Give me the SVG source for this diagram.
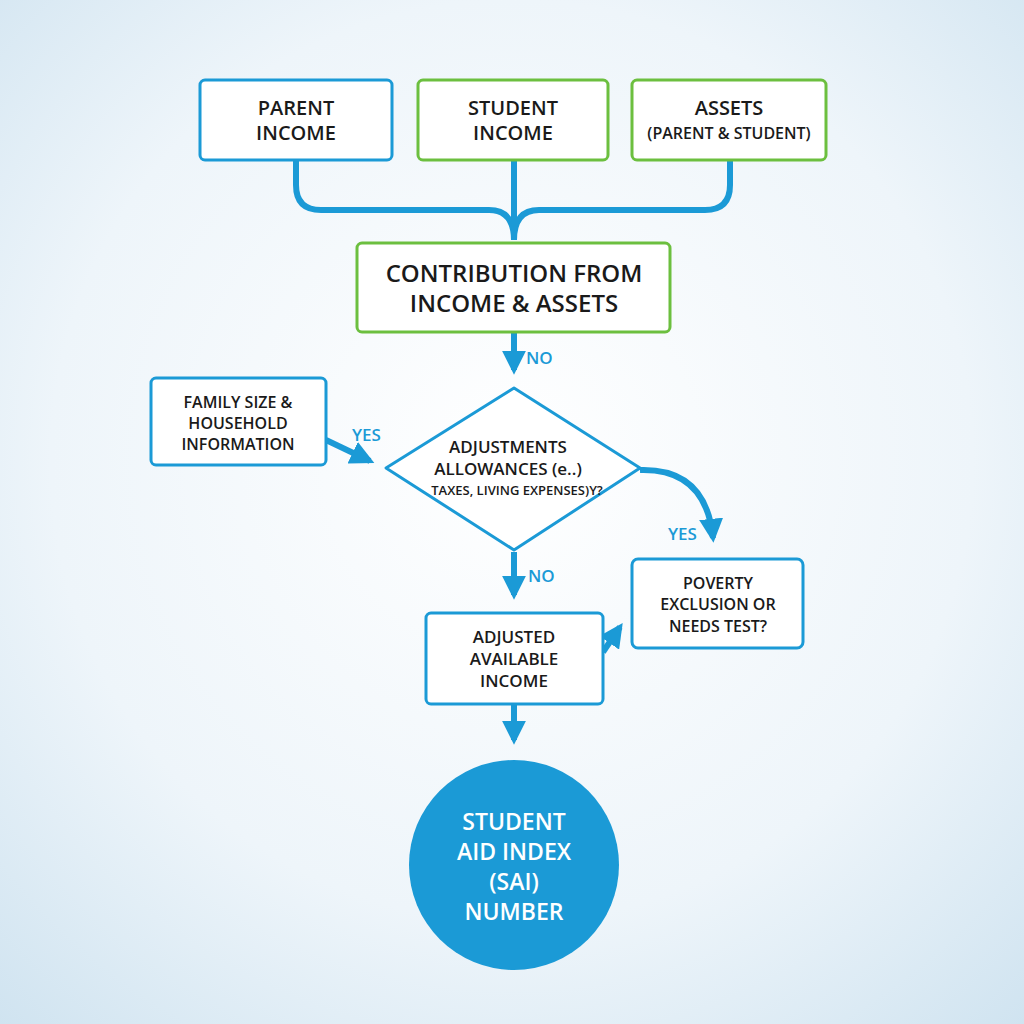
<svg xmlns="http://www.w3.org/2000/svg" width="1024" height="1024" viewBox="0 0 1024 1024">
<defs>
<radialGradient id="bg" cx="0.5" cy="0.45" r="0.75">
<stop offset="0" stop-color="#ffffff"/><stop offset="0.6" stop-color="#eef5fa"/><stop offset="1" stop-color="#cfe3f0"/>
</radialGradient>
<marker id="ah" viewBox="0 0 10 10" refX="8" refY="5" markerWidth="4" markerHeight="4" orient="auto" markerUnits="strokeWidth">
<path d="M0,0 L10,5 L0,10 z" fill="#1b9ad6"/>
</marker>
</defs>
<style>
.b{fill:#fff;stroke:#1b9ad6;stroke-width:3}
.g{fill:#fff;stroke:#6cbf3f;stroke-width:3}
.t{font-family:"Open Sans","DejaVu Sans",sans-serif;font-weight:600;fill:#1a1a1a;text-anchor:middle}
.c{fill:none;stroke:#1b9ad6;stroke-width:6}
.l{font-family:"Open Sans","DejaVu Sans",sans-serif;font-weight:600;fill:#1b9ad6;font-size:17px}
</style>
<rect width="1024" height="1024" fill="url(#bg)"/>
<g id="connectors">
<path class="c" d="M296,160 V185 Q296,210 321,210 H489 Q514,210 514,240"/>
<path class="c" d="M730,160 V185 Q730,210 705,210 H539 Q514,210 514,240"/>
<path class="c" d="M514,160 V240"/>
<path class="c" d="M514,332 V370" marker-end="url(#ah)"/>
<path class="c" d="M326,440 L370,461" marker-end="url(#ah)"/>
<path class="c" d="M640,470 Q706,468 713,538" marker-end="url(#ah)"/>
<path class="c" d="M514,552 V595" marker-end="url(#ah)"/>
<path class="c" d="M603,652 L620,627" marker-end="url(#ah)"/>
<path class="c" d="M514,704 V740" marker-end="url(#ah)"/>
<text class="l" x="526" y="364">NO</text>
<text class="l" x="352" y="441">YES</text>
<text class="l" x="668" y="540">YES</text>
<text class="l" x="528" y="582">NO</text>
</g>
<g id="parent"><rect class="b" x="200" y="80" width="192" height="80" rx="5"/>
<text class="t" font-size="20"><tspan x="296" y="115">PARENT</tspan><tspan x="296" y="140">INCOME</tspan></text></g>
<g id="student"><rect class="g" x="418" y="80" width="190" height="80" rx="5"/>
<text class="t" font-size="20"><tspan x="513" y="115">STUDENT</tspan><tspan x="513" y="140">INCOME</tspan></text></g>
<g id="assets"><rect class="g" x="632" y="80" width="194" height="80" rx="5"/>
<text class="t" font-size="20"><tspan x="729" y="115">ASSETS</tspan><tspan x="729" y="139" font-size="16">(PARENT &amp; STUDENT)</tspan></text></g>
<g id="contribution"><rect class="g" x="357" y="243" width="313" height="89" rx="5"/>
<text class="t" font-size="24"><tspan x="514" y="282">CONTRIBUTION FROM</tspan><tspan x="514" y="312">INCOME &amp; ASSETS</tspan></text></g>
<g id="family"><rect class="b" x="151" y="378" width="175" height="87" rx="5"/>
<text class="t" font-size="16"><tspan x="238" y="408">FAMILY SIZE &amp;</tspan><tspan x="238" y="429">HOUSEHOLD</tspan><tspan x="238" y="450">INFORMATION</tspan></text></g>
<g id="adjustments"><path class="b" d="M514,388 L640,468 L514,550 L386,468 Z" stroke-linejoin="round"/>
<text class="t" font-size="17"><tspan x="508" y="453">ADJUSTMENTS</tspan><tspan x="508" y="475">ALLOWANCES (e..)</tspan><tspan x="517" y="495" font-size="13">TAXES, LIVING EXPENSES)Y?</tspan></text></g>
<g id="poverty"><rect class="b" x="632" y="559" width="171" height="89" rx="6"/>
<text class="t" font-size="16"><tspan x="718" y="589">POVERTY</tspan><tspan x="718" y="610">EXCLUSION OR</tspan><tspan x="718" y="632">NEEDS TEST?</tspan></text></g>
<g id="adjusted"><rect class="b" x="426" y="613" width="177" height="91" rx="5"/>
<text class="t" font-size="17"><tspan x="514" y="643">ADJUSTED</tspan><tspan x="514" y="665">AVAILABLE</tspan><tspan x="514" y="687">INCOME</tspan></text></g>
<g id="sai"><circle cx="514" cy="865" r="105" fill="#1b9ad6"/>
<text class="t" font-size="23" style="fill:#fff"><tspan x="514" y="830">STUDENT</tspan><tspan x="514" y="860">AID INDEX</tspan><tspan x="514" y="890">(SAI)</tspan><tspan x="514" y="920">NUMBER</tspan></text></g>
</svg>
